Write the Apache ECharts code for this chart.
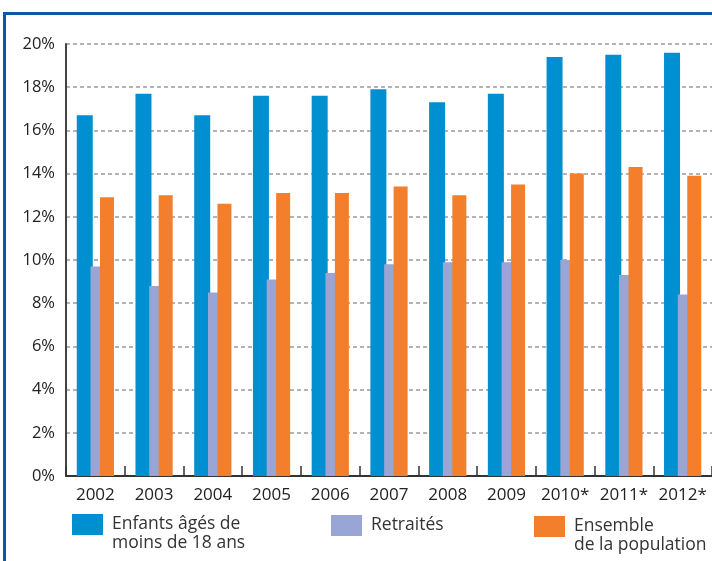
<!DOCTYPE html>
<html>
<head>
<meta charset="utf-8">
<script src="https://cdn.jsdelivr.net/npm/echarts@6/dist/echarts.min.js"></script>
<style>
html,body{margin:0;padding:0;background:#fff;}
#chart{width:712px;height:561px;}
</style>
</head>
<body>
<div id="chart"></div>
<script>
var categories = ['2002','2003','2004','2005','2006','2007','2008','2009','2010*','2011*','2012*'];
var enfants = [16.7, 17.7, 16.7, 17.6, 17.6, 17.9, 17.3, 17.7, 19.4, 19.5, 19.6];
var retraites = [9.7, 8.8, 8.5, 9.1, 9.4, 9.8, 9.9, 9.9, 10.0, 9.3, 8.4];
var ensemble = [12.9, 13.0, 12.6, 13.1, 13.1, 13.4, 13.0, 13.5, 14.0, 14.3, 13.9];
var seriesNames = ['Enfants âgés de\nmoins de 18 ans', 'Retraités', 'Ensemble\nde la population'];
var yTicks = [0, 2, 4, 6, 8, 10, 12, 14, 16, 18, 20];

var FONT = '"Open Sans", "Noto Sans", sans-serif';
var colors = ['#008FD0', '#99A6D5', '#F37E2C'];
var chart = echarts.init(document.getElementById('chart'), null, {renderer: 'canvas'});

function legendFor(i, left, top, twoLine) {
  return {
    show: true,
    left: left, top: top,
    padding: 0,
    orient: 'horizontal',
    data: [seriesNames[i]],
    itemWidth: 31, itemHeight: 21,
    icon: 'rect',
    selectedMode: false,
    formatter: function (name) { return twoLine ? '\n' + name : name; },
    textStyle: {
      fontFamily: FONT, fontSize: 17.5, color: '#333', lineHeight: 19,
      padding: [0, 0, 0, 4]
    }
  };
}

chart.setOption({
  animation: false,
  backgroundColor: '#fff',
  color: colors,
  graphic: [{
    type: 'rect', z: 100,
    shape: {x: 4.5, y: 13.5, width: 800, height: 700},
    style: {fill: 'none', stroke: '#1257A6', lineWidth: 3}
  }],
  legend: [
    legendFor(0, 72, 496, true),
    legendFor(1, 331, 515, false),
    legendFor(2, 534, 498, true)
  ],
  grid: {left: 66, top: 44, width: 649, height: 432, containLabel: false},
  xAxis: {
    type: 'category',
    data: categories,
    boundaryGap: true,
    axisLine: {show: true, lineStyle: {color: '#333', width: 2}},
    axisTick: {show: true, inside: true, length: 10, lineStyle: {color: '#333', width: 1.5}},
    axisLabel: {fontFamily: FONT, fontSize: 17, color: '#222', margin: 11, interval: 0},
    splitLine: {show: false}
  },
  yAxis: {
    type: 'value',
    min: yTicks[0], max: yTicks[yTicks.length - 1], interval: 2,
    axisLine: {show: true, lineStyle: {color: '#444', width: 2}},
    axisTick: {show: false},
    axisLabel: {fontFamily: FONT, fontSize: 16.5, color: '#222', margin: 11, formatter: '{value}%'},
    splitLine: {show: true, lineStyle: {color: '#9a9a9a', width: 1.5, type: [4, 3]}}
  },
  series: [
    {name: seriesNames[0], type: 'bar', data: enfants, barWidth: 16, barGap: '-14%', itemStyle: {color: colors[0]}},
    {name: seriesNames[1], type: 'bar', data: retraites, barWidth: 11, barGap: '-14%', itemStyle: {color: colors[1]}},
    {name: seriesNames[2], type: 'bar', data: ensemble, barWidth: 14, barGap: '-14%', itemStyle: {color: colors[2]}}
  ]
});
</script>
</body>
</html>
